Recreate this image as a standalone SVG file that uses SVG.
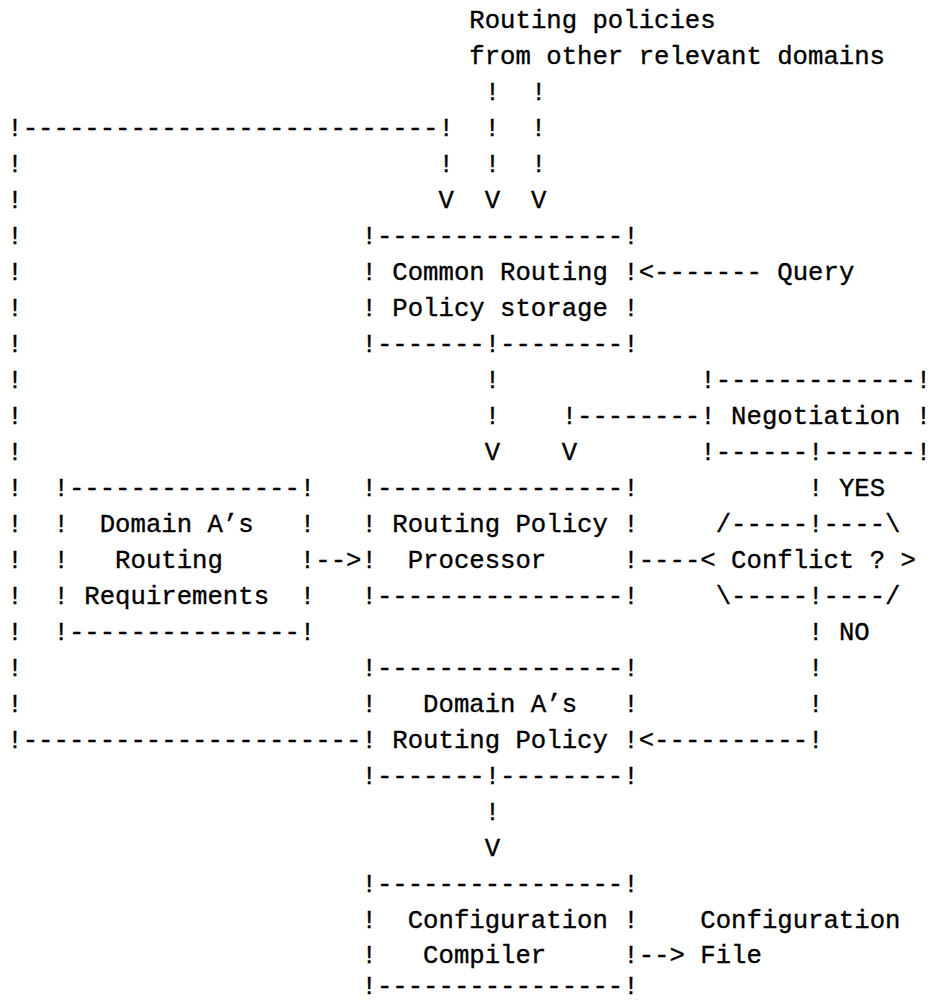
<svg xmlns="http://www.w3.org/2000/svg" width="930" height="1001" viewBox="0 0 930 1001" xml:space="preserve">
<style>
text { font-family: "Liberation Mono", "DejaVu Sans Mono", monospace; font-size: 25.67px; fill: #000; stroke: #000; stroke-width: 0.35px; white-space: pre; }
</style>
<rect x="0" y="0" width="930" height="1001" fill="#fff"/>
<g id="sources">
<text x="469.3" y="28">Routing policies</text>
<text x="469.3" y="64">from other relevant domains</text>
</g>
<g id="storage">
<text x="361.5" y="244">!----------------!</text>
<text x="361.5" y="280">! Common Routing !</text>
<text x="361.5" y="316">! Policy storage !</text>
<text x="361.5" y="352">!-------!--------!</text>
</g>
<g id="query">
<text x="777.3" y="280">Query</text>
</g>
<g id="negotiation">
<text x="700.3" y="388">!-------------!</text>
<text x="700.3" y="424">! Negotiation !</text>
<text x="700.3" y="460">!------!------!</text>
</g>
<g id="requirements">
<text x="53.5" y="496">!---------------!</text>
<text x="53.5" y="532">!  Domain A’s   !</text>
<text x="53.5" y="568">!   Routing     !</text>
<text x="53.5" y="604">! Requirements  !</text>
<text x="53.5" y="640">!---------------!</text>
</g>
<g id="processor">
<text x="361.5" y="496">!----------------!</text>
<text x="361.5" y="532">! Routing Policy !</text>
<text x="361.5" y="568">!  Processor     !</text>
<text x="361.5" y="604">!----------------!</text>
</g>
<g id="conflict">
<text x="715.7" y="532">/-----!----\</text>
<text x="700.3" y="568">&lt; Conflict ? &gt;</text>
<text x="715.7" y="604">\-----!----/</text>
</g>
<g id="policy">
<text x="361.5" y="676">!----------------!</text>
<text x="361.5" y="712">!   Domain A’s   !</text>
<text x="361.5" y="748">! Routing Policy !</text>
<text x="361.5" y="784">!-------!--------!</text>
</g>
<g id="compiler">
<text x="361.5" y="892">!----------------!</text>
<text x="361.5" y="928">!  Configuration !</text>
<text x="361.5" y="963">!   Compiler     !</text>
<text x="361.5" y="994">!----------------!</text>
</g>
<g id="file">
<text x="700.3" y="928">Configuration</text>
<text x="700.3" y="963">File</text>
</g>
<g id="connectors">
<text x="484.7" y="100">!  !</text>
<text x="7.3" y="136">!---------------------------!  !  !</text>
<text x="7.3" y="172">!</text>
<text x="438.5" y="172">!  !  !</text>
<text x="7.3" y="208">!</text>
<text x="438.5" y="208">V  V  V</text>
<text x="7.3" y="244">!</text>
<text x="7.3" y="280">!</text>
<text x="638.7" y="280">&lt;-------</text>
<text x="7.3" y="316">!</text>
<text x="7.3" y="352">!</text>
<text x="7.3" y="388">!</text>
<text x="484.7" y="388">!</text>
<text x="7.3" y="424">!</text>
<text x="484.7" y="424">!    !--------</text>
<text x="7.3" y="460">!</text>
<text x="484.7" y="460">V    V</text>
<text x="7.3" y="496">!</text>
<text x="808.1" y="496">! YES</text>
<text x="7.3" y="532">!</text>
<text x="7.3" y="568">!</text>
<text x="315.3" y="568">--&gt;</text>
<text x="638.7" y="568">----</text>
<text x="7.3" y="604">!</text>
<text x="7.3" y="640">!</text>
<text x="808.1" y="640">! NO</text>
<text x="7.3" y="676">!</text>
<text x="808.1" y="676">!</text>
<text x="7.3" y="712">!</text>
<text x="808.1" y="712">!</text>
<text x="7.3" y="748">!----------------------</text>
<text x="638.7" y="748">&lt;----------!</text>
<text x="484.7" y="820">!</text>
<text x="484.7" y="856">V</text>
<text x="638.7" y="963">--&gt;</text>
</g>
</svg>
